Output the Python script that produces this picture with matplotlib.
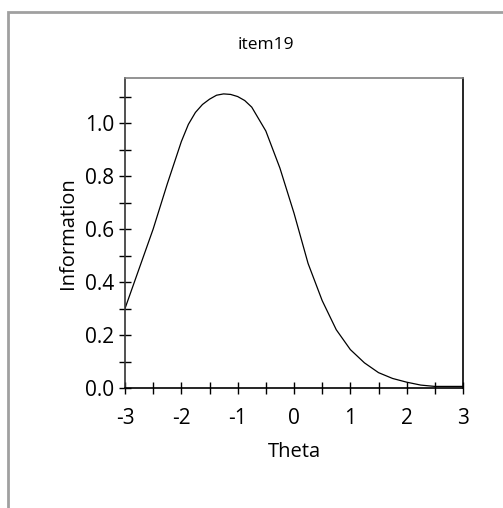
import matplotlib.pyplot as plt
import matplotlib.patches as mpatches
import numpy as np

# Данные кривой информативности задания
theta = [-3.0, -2.75, -2.5, -2.25, -2.0, -1.875, -1.75, -1.625, -1.5, -1.375, -1.25, -1.125, -1.0,
         -0.875, -0.75, -0.5, -0.25, 0.0, 0.25, 0.5, 0.75, 1.0, 1.25, 1.5, 1.75, 2.0, 2.25, 2.5, 2.75, 3.0]
information = [0.30, 0.45, 0.60, 0.77, 0.93, 0.995, 1.04, 1.07, 1.09, 1.105, 1.11, 1.108, 1.10,
               1.085, 1.06, 0.97, 0.83, 0.66, 0.47, 0.33, 0.22, 0.145, 0.095, 0.058, 0.036, 0.022,
               0.011, 0.006, 0.006, 0.006]
x_ticks = [-3, -2, -1, 0, 1, 2, 3]
y_ticks = [0.0, 0.2, 0.4, 0.6, 0.8, 1.0]

plt.rcParams['font.family'] = ['Open Sans', 'DejaVu Sans']

fig = plt.figure(figsize=(5.03, 5.08), dpi=100)

# Серая рамка вокруг графика
frame = mpatches.Rectangle((8 / 503, -0.05), 1.1, 1 - 12 / 508 + 0.05, transform=fig.transFigure,
                           fill=False, edgecolor='#a0a0a0', linewidth=2)
fig.patches.append(frame)

ax = fig.add_axes([125 / 503, 1 - 388 / 508, (463 - 125) / 503, (388 - 78) / 508])
ax.plot(theta, information, color='black', linewidth=0.9)

ax.set_xlim(-3, 3)
ax.set_ylim(0, 1.17)
ax.set_xticks(x_ticks)
ax.set_xticklabels([str(v) for v in x_ticks])
ax.set_xticks(np.arange(-3, 3.01, 0.5), minor=True)
ax.set_yticks(y_ticks)
ax.set_yticklabels([f"{v:.1f}" for v in y_ticks])
ax.set_yticks(np.arange(0, 1.15, 0.1), minor=True)

ax.tick_params(which='both', direction='inout', length=9, width=1, color='black',
               labelsize=15, pad=3)
ax.tick_params(axis='x', which='both', pad=10)

ax.spines['top'].set_color('#808080')
ax.spines['left'].set_color('#333333')
ax.spines['right'].set_color('black')
ax.spines['bottom'].set_color('black')
for s in ax.spines.values():
    s.set_linewidth(1.2)

ax.set_xlabel("Theta", fontsize=14.5, labelpad=9)
ax.set_ylabel("Information", fontsize=14.5, labelpad=5)

fig.text(266 / 503, 1 - 45 / 508, "item19", ha='center', va='center', fontsize=12.5)

fig.savefig("out.png", dpi=100)
